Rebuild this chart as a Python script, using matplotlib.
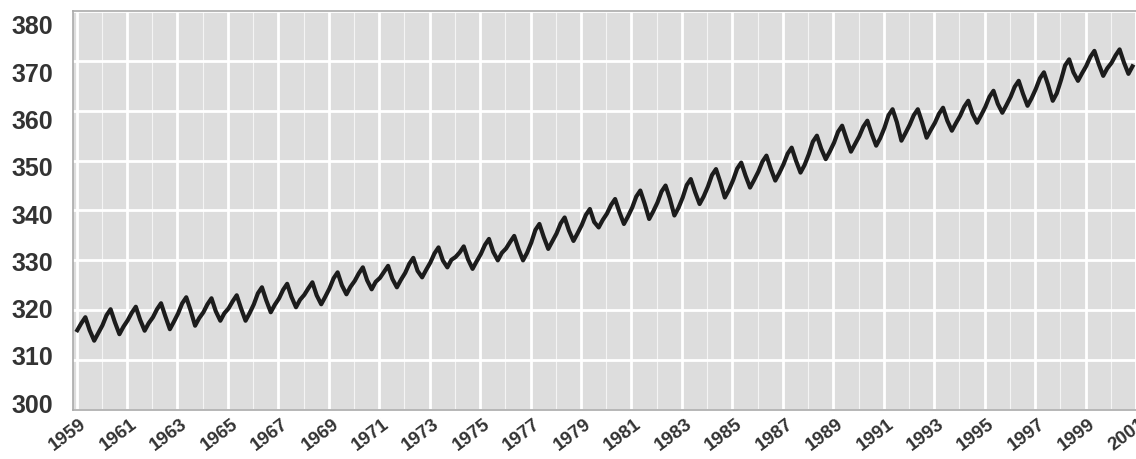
import matplotlib
matplotlib.use("Agg")
import matplotlib.pyplot as plt
import matplotlib.transforms as mtransforms

# CO2 (ppm), six points per year of the seasonal cycle
years = list(range(1959, 2001))
co2_jan = [316.0, 317.0, 318.0, 318.6, 319.4, 319.6, 320.4, 321.2, 322.4, 323.1,
           324.4, 325.9, 326.5, 327.5, 329.6, 330.7, 331.3, 332.4, 333.6, 335.4,
           337.1, 339.4, 340.6, 341.6, 342.6, 344.8, 346.1, 347.8, 349.3, 351.3,
           353.6, 354.9, 356.6, 357.2, 357.6, 359.0, 360.8, 362.8, 364.4, 366.2,
           369.0, 369.6]
co2_mar = [317.4, 319.0, 319.5, 320.2, 321.4, 321.2, 321.8, 323.4, 324.1, 324.4,
           326.4, 327.4, 327.7, 329.3, 331.4, 331.6, 333.1, 333.7, 336.1, 337.4,
           339.1, 341.1, 342.8, 343.8, 345.1, 347.1, 348.4, 349.8, 351.4, 353.8,
           355.8, 356.8, 359.1, 359.1, 359.4, 360.8, 362.8, 364.8, 366.5, 369.1,
           370.8, 371.1]
co2_may = [318.6, 320.2, 320.7, 321.4, 322.6, 322.4, 323.0, 324.6, 325.3, 325.6,
           327.6, 328.6, 328.9, 330.5, 332.6, 332.8, 334.3, 334.9, 337.3, 338.6,
           340.3, 342.3, 344.0, 345.0, 346.3, 348.3, 349.6, 351.0, 352.6, 355.0,
           357.0, 358.0, 360.3, 360.3, 360.6, 362.0, 364.0, 366.0, 367.7, 370.3,
           372.0, 372.3]
co2_jul = [316.0, 317.6, 318.1, 318.8, 320.0, 319.8, 320.4, 322.0, 322.7, 323.0,
           325.0, 326.0, 326.3, 327.9, 330.0, 330.2, 331.7, 332.3, 334.7, 336.0,
           337.7, 339.7, 341.4, 342.4, 343.7, 345.7, 347.0, 348.4, 350.0, 352.4,
           354.4, 355.4, 357.7, 357.7, 358.0, 359.4, 361.4, 363.4, 365.1, 367.7,
           369.4, 369.7]
co2_sep = [313.9, 315.2, 315.9, 316.2, 316.9, 317.9, 317.9, 319.6, 320.6, 321.2,
           323.2, 324.2, 324.6, 326.6, 328.6, 328.3, 330.0, 330.0, 332.3, 333.9,
           336.6, 337.3, 338.3, 339.0, 341.3, 342.6, 344.6, 346.0, 347.6, 350.3,
           351.8, 353.0, 354.0, 354.6, 356.0, 357.6, 359.6, 361.0, 362.0, 366.0,
           367.0, 367.4]
co2_nov = [315.4, 316.7, 317.4, 317.7, 318.4, 319.4, 319.4, 321.1, 322.1, 322.7,
           324.7, 325.7, 326.1, 328.1, 330.1, 329.8, 331.5, 331.5, 333.8, 335.4,
           338.1, 338.8, 339.8, 340.5, 342.8, 344.1, 346.1, 347.5, 349.1, 351.8,
           353.3, 354.5, 355.5, 356.1, 357.5, 359.1, 361.1, 362.5, 363.5, 367.5,
           368.5, 368.9]
month_pos = [0.03, 0.19, 0.35, 0.52, 0.70, 0.86]

t = []
v = []
for i, yr in enumerate(years):
    for m, series in zip(month_pos, (co2_jan, co2_mar, co2_may, co2_jul, co2_sep, co2_nov)):
        t.append(yr + m)
        v.append(series[i])

fig = plt.figure(figsize=(11.36, 4.59), dpi=100)
ax = fig.add_axes([73 / 1136, 49 / 459, 1 - 73 / 1136, 399 / 459])
ax.set_facecolor("#dddddd")

ax.plot(t, v, color="#1c1c1c", lw=3.0, solid_joinstyle="round", zorder=3)

ax.set_xlim(1958.86, 2000.89)
ax.set_ylim(300, 380)
ax.set_yticks(range(300, 381, 10))
ax.set_xticks(range(1959, 2002, 2))
ax.set_xticks(range(1960, 2002, 2), minor=True)
ax.grid(True, which="major", color="white", lw=2.0, zorder=1)
ax.grid(True, which="minor", axis="x", color="white", lw=0.8, alpha=0.7, zorder=1)
ax.tick_params(which="both", length=0)

# the y labels in the original sit a little off their grid lines (px, downward)
label_shift = [-6.8, -4.2, -1.6, 1.0, 3.6, 6.2, 8.8, 11.4, 14.0]
ax.tick_params(axis="y", pad=14)
for lab, dy in zip(ax.get_yticklabels(), label_shift):
    lab.set_fontfamily("Liberation Sans")
    lab.set_fontweight("bold")
    lab.set_fontsize(18)
    lab.set_color("#333333")
    lab.set_transform(lab.get_transform() +
                      mtransforms.ScaledTranslation(0, -dy / 100, fig.dpi_scale_trans))

offset = mtransforms.ScaledTranslation(3 / 100, -1 / 100, fig.dpi_scale_trans)
for lab in ax.get_xticklabels():
    lab.set_fontfamily("Liberation Sans")
    lab.set_fontweight("bold")
    lab.set_fontsize(13.5)
    lab.set_color("#333333")
    lab.set_rotation(37)
    lab.set_ha("right")
    lab.set_va("top")
    lab.set_rotation_mode("anchor")
    lab.set_transform(lab.get_transform() + offset)

for side in ("top", "left", "bottom"):
    ax.spines[side].set_color("#aaaaaa")
    ax.spines[side].set_linewidth(1.2)
ax.spines["right"].set_visible(False)

fig.savefig("out.png", dpi=100)
